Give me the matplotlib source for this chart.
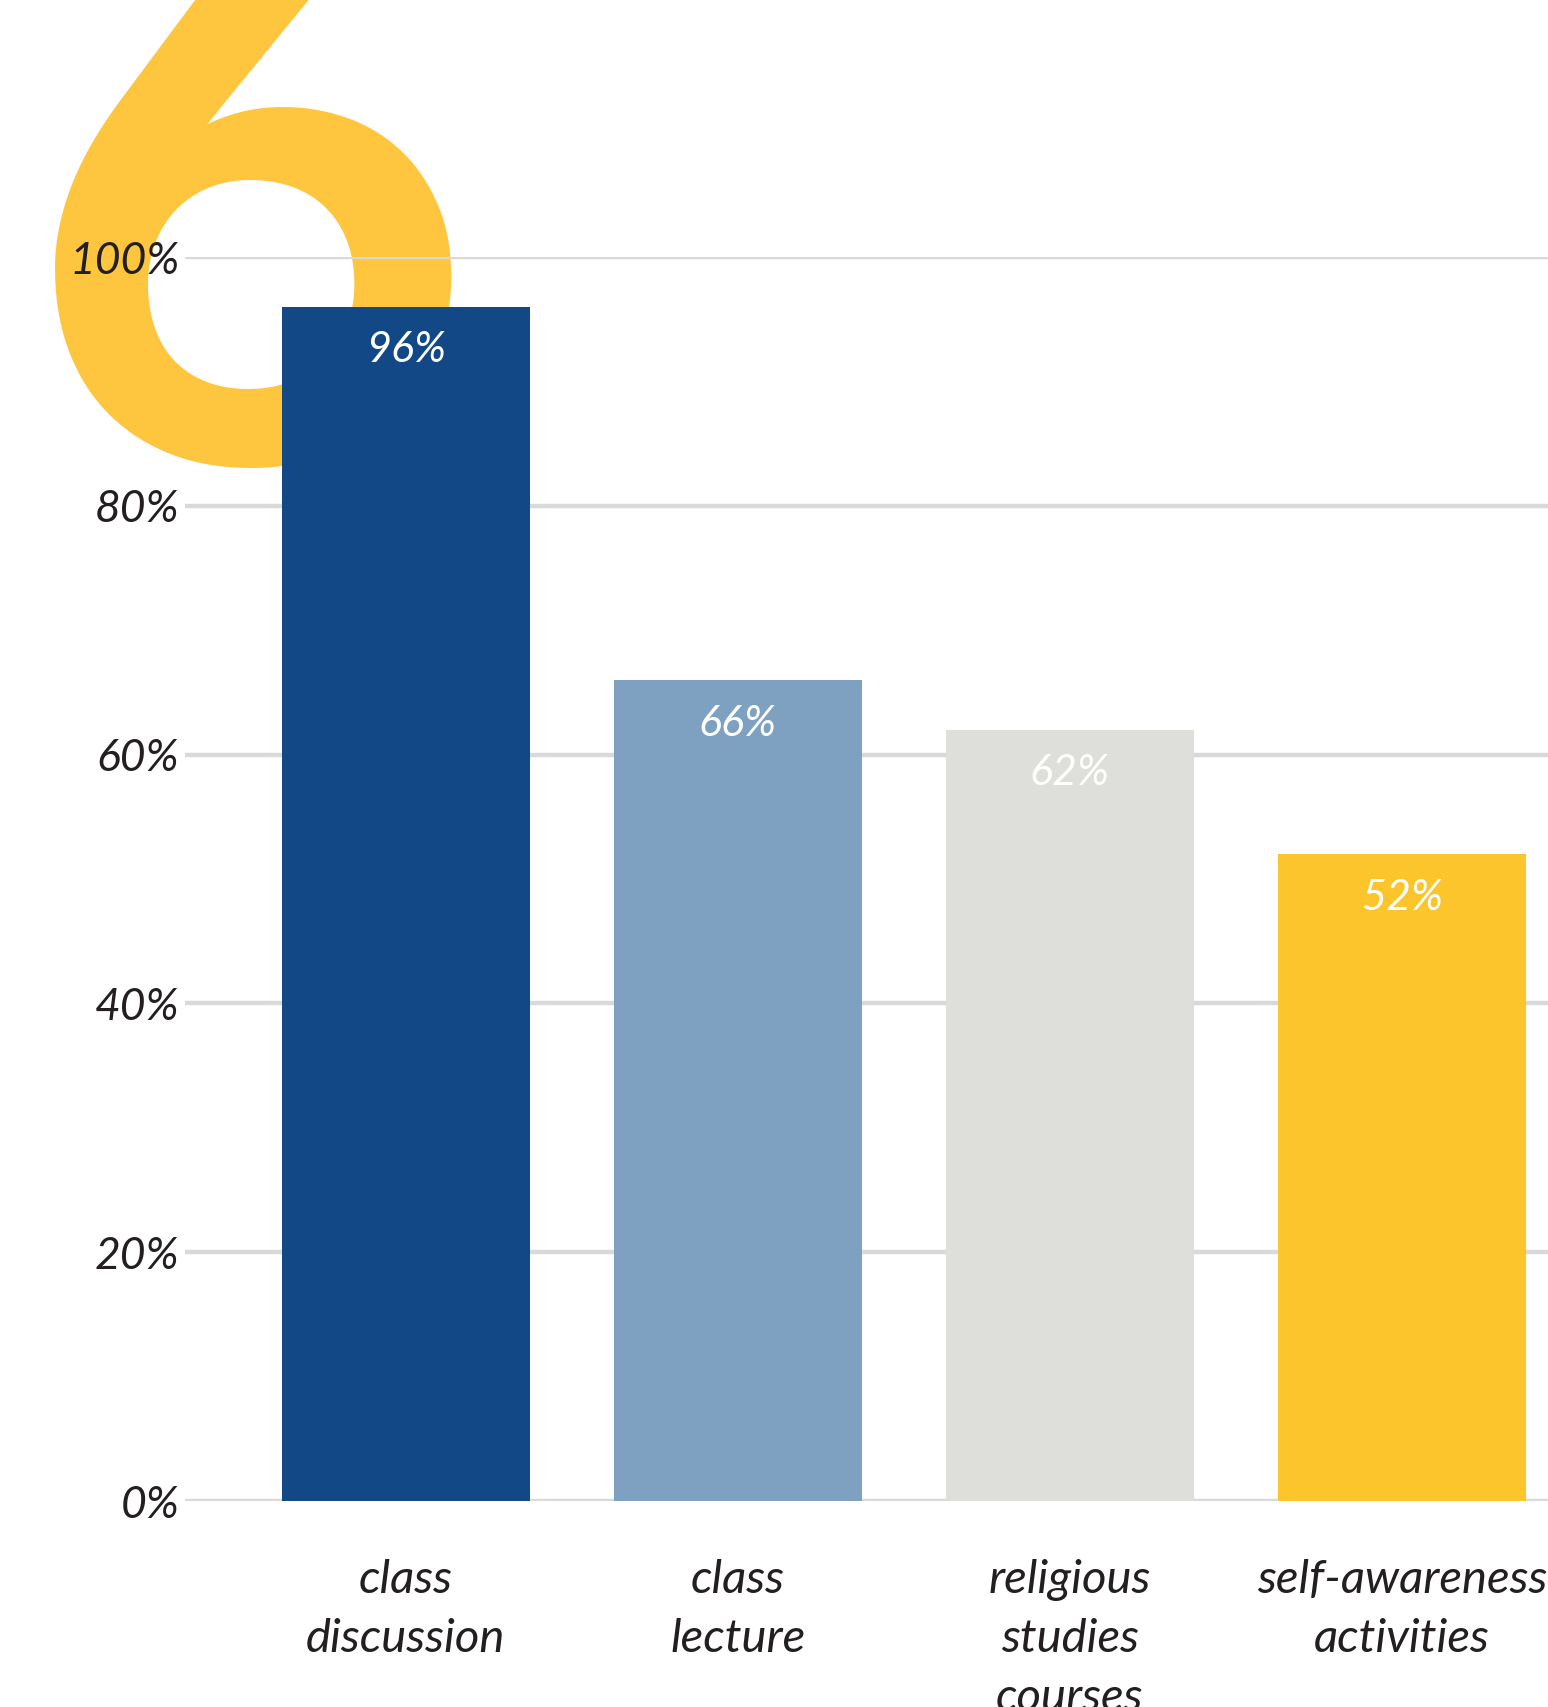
import numpy as np
import matplotlib
matplotlib.use("Agg")
import matplotlib.pyplot as plt

categories = ["class\ndiscussion", "class\nlecture", "religious\nstudies\ncourses", "self-awareness\nactivities"]
values = [96, 66, 62, 52]
bar_colors = ["#114885", "#7ea1c2", "#dededa", "#fcc52c"]
y_ticks = [0, 20, 40, 60, 80, 100]
y_tick_labels = ["0%", "20%", "40%", "60%", "80%", "100%"]

plt.rcParams["font.family"] = ["Lato", "DejaVu Sans"]
text_color = "#231f20"

fig = plt.figure(figsize=(15.48, 17.07), dpi=100)
ax = fig.add_axes([185 / 1548, (1707 - 1501) / 1707, (1548 - 185) / 1548, (1501 - 257) / 1707])
ax.set_facecolor("none")

# big decorative six behind the chart
fig.text(250 / 1548, (1707 - 462) / 1707, "6", fontsize=565, fontweight="bold",
         color="#fec53e", ha="center", va="baseline", zorder=-1)

x = np.arange(len(values))
ax.bar(x, values, width=0.747, color=bar_colors, zorder=3)

for xi, v in zip(x, values):
    ax.text(xi, v - 3.5, f"{v}%", color="white", fontsize=31, style="italic",
            ha="center", va="center", zorder=4)

ax.set_xlim(-0.665, 3.44)
ax.set_ylim(0, 100)
ax.set_yticks(y_ticks)
ax.set_yticklabels(y_tick_labels, fontsize=32, style="italic", color=text_color)
ax.set_xticks(x)
ax.set_xticklabels(categories, fontsize=34, style="italic", color=text_color,
                   linespacing=1.5)
ax.tick_params(axis="both", length=0)
ax.tick_params(axis="y", pad=4)
ax.tick_params(axis="x", pad=42)

ax.yaxis.grid(True, color="#d9d9d9", linewidth=3.2, zorder=1)
ax.set_axisbelow(True)
for s in ax.spines.values():
    s.set_visible(False)

fig.savefig("out.png", dpi=100)
